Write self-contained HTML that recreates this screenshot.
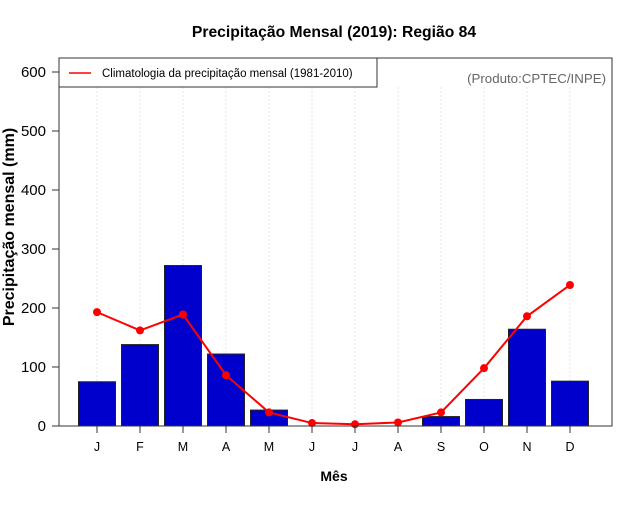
<!DOCTYPE html>
<html><head><meta charset="utf-8"><style>
body{margin:0;background:#fff;font-family:"Liberation Sans",sans-serif}
</style></head><body>
<svg id="c" width="640" height="500" xmlns="http://www.w3.org/2000/svg" font-family="Liberation Sans, sans-serif">
<text x="334" y="37" text-anchor="middle" font-size="15.7" font-weight="bold">Precipitação Mensal (2019): Região 84</text>
<text x="334" y="481" text-anchor="middle" font-size="14" font-weight="bold">Mês</text>
<text transform="translate(14,227) rotate(-90)" text-anchor="middle" font-size="16" font-weight="bold">Precipitação mensal (mm)</text>
<g id="grid"></g><g id="bars"></g><g id="line"></g><g id="axes"></g>
<rect x="59" y="58" width="553" height="368" fill="none" stroke="#333" stroke-width="1"/>
<g>
<rect x="59" y="58" width="318" height="29" fill="#fff" stroke="#333"/>
<line x1="69" y1="73" x2="91" y2="73" stroke="red" stroke-width="1.5"/>
<text x="102" y="77" font-size="11.5">Climatologia da precipitação mensal (1981-2010)</text>
</g>
<text x="606" y="83" text-anchor="end" font-size="13.3" fill="#666">(Produto:CPTEC/INPE)</text>
</svg>
<script>
const months=["J","F","M","A","M","J","J","A","S","O","N","D"];
const rain2019=[75,138,272,122,27,0,0,0,16,45,164,76];
const climatology=[193,162,189,86,23,5,3,6,23,98,186,239];
const yTicks=[0,100,200,300,400,500,600];
const NS="http://www.w3.org/2000/svg";
const xs=i=>97+43*i;
const ys=v=>426-v*0.59;
function mk(p,t,a){const e=document.createElementNS(NS,t);for(const k in a)e.setAttribute(k,a[k]);document.getElementById(p).appendChild(e);return e;}
months.forEach((m,i)=>{
 const g=mk("grid","line",{x1:xs(i),x2:xs(i),y1:87,y2:426,stroke:"#e4e4e4","stroke-dasharray":"2,2"});
 
 
 const t=mk("axes","line",{x1:xs(i),x2:xs(i),y1:426,y2:433,stroke:"#333"});
 
 
 const l=mk("axes","text",{x:xs(i),y:451,"text-anchor":"middle","font-size":"12.5"});l.textContent=m;
 
 
 const h=rain2019[i]*0.59;
 const b=mk("bars","rect",{x:xs(i)-18.5,y:426-h,width:37,height:h,fill:"#0000cd",stroke:"#222","stroke-width":"1"});
 
 
});
yTicks.forEach(v=>{
 const t=mk("axes","line",{x1:52,x2:59,y1:ys(v),y2:ys(v),stroke:"#333"});
 
 
 const l=mk("axes","text",{x:46,y:ys(v)+5,"text-anchor":"end","font-size":"15"});l.textContent=v;
 
 
});
const pl=mk("line","polyline",{points:climatology.map((v,i)=>xs(i)+","+ys(v)).join(" "),fill:"none",stroke:"red","stroke-width":"2"});


climatology.forEach((v,i)=>{
 const c=mk("line","circle",{cx:xs(i),cy:ys(v),r:4,fill:"red"});
 
 
});
</script>
</body></html>
